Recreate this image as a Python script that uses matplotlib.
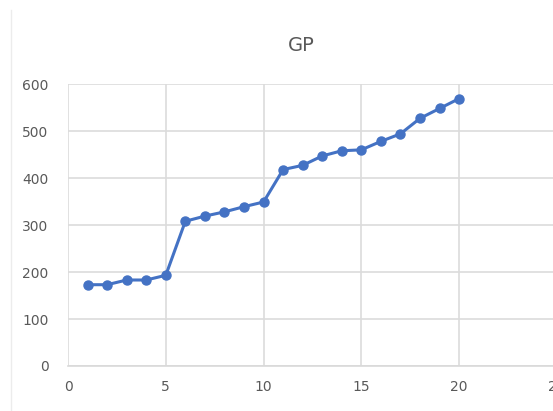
import matplotlib.pyplot as plt
from matplotlib.lines import Line2D

# GP per period
x = list(range(1, 21))
gp = [173, 173, 183, 183, 193, 308, 319, 328, 339, 349,
      418, 427, 447, 458, 460, 478, 494, 527, 548, 569]

xticks = [0, 5, 10, 15, 20, 25]
yticks = [0, 100, 200, 300, 400, 500, 600]

fig = plt.figure(figsize=(5.53, 4.11), dpi=100)
ax = fig.add_axes([0.123, 0.1095, 0.884, 0.686])

ax.plot(x, gp, color='#4472C4', linewidth=2.2, marker='o', markersize=6.5,
        zorder=3, clip_on=False)

ax.set_xlim(0, 25)
ax.set_ylim(0, 600)
ax.set_xticks(xticks)
ax.set_yticks(yticks)
ax.grid(True, color='#dcdcdc', linewidth=1.2)
ax.set_axisbelow(True)
for side in ['top', 'right', 'left']:
    ax.spines[side].set_visible(False)
ax.spines['bottom'].set_color('#d9d9d9')
ax.spines['bottom'].set_linewidth(1.2)
ax.tick_params(length=0, colors='#595959', labelsize=10)
ax.tick_params(axis='y', pad=14)
ax.tick_params(axis='x', pad=10)

fig.text(0.544, 0.89, 'GP', ha='center', va='center', fontsize=14, color='#595959')

# chart area border on the left
fig.add_artist(Line2D([0.02, 0.02], [0, 0.976], color='#ececec', linewidth=1))

fig.savefig('out.png', dpi=100)
